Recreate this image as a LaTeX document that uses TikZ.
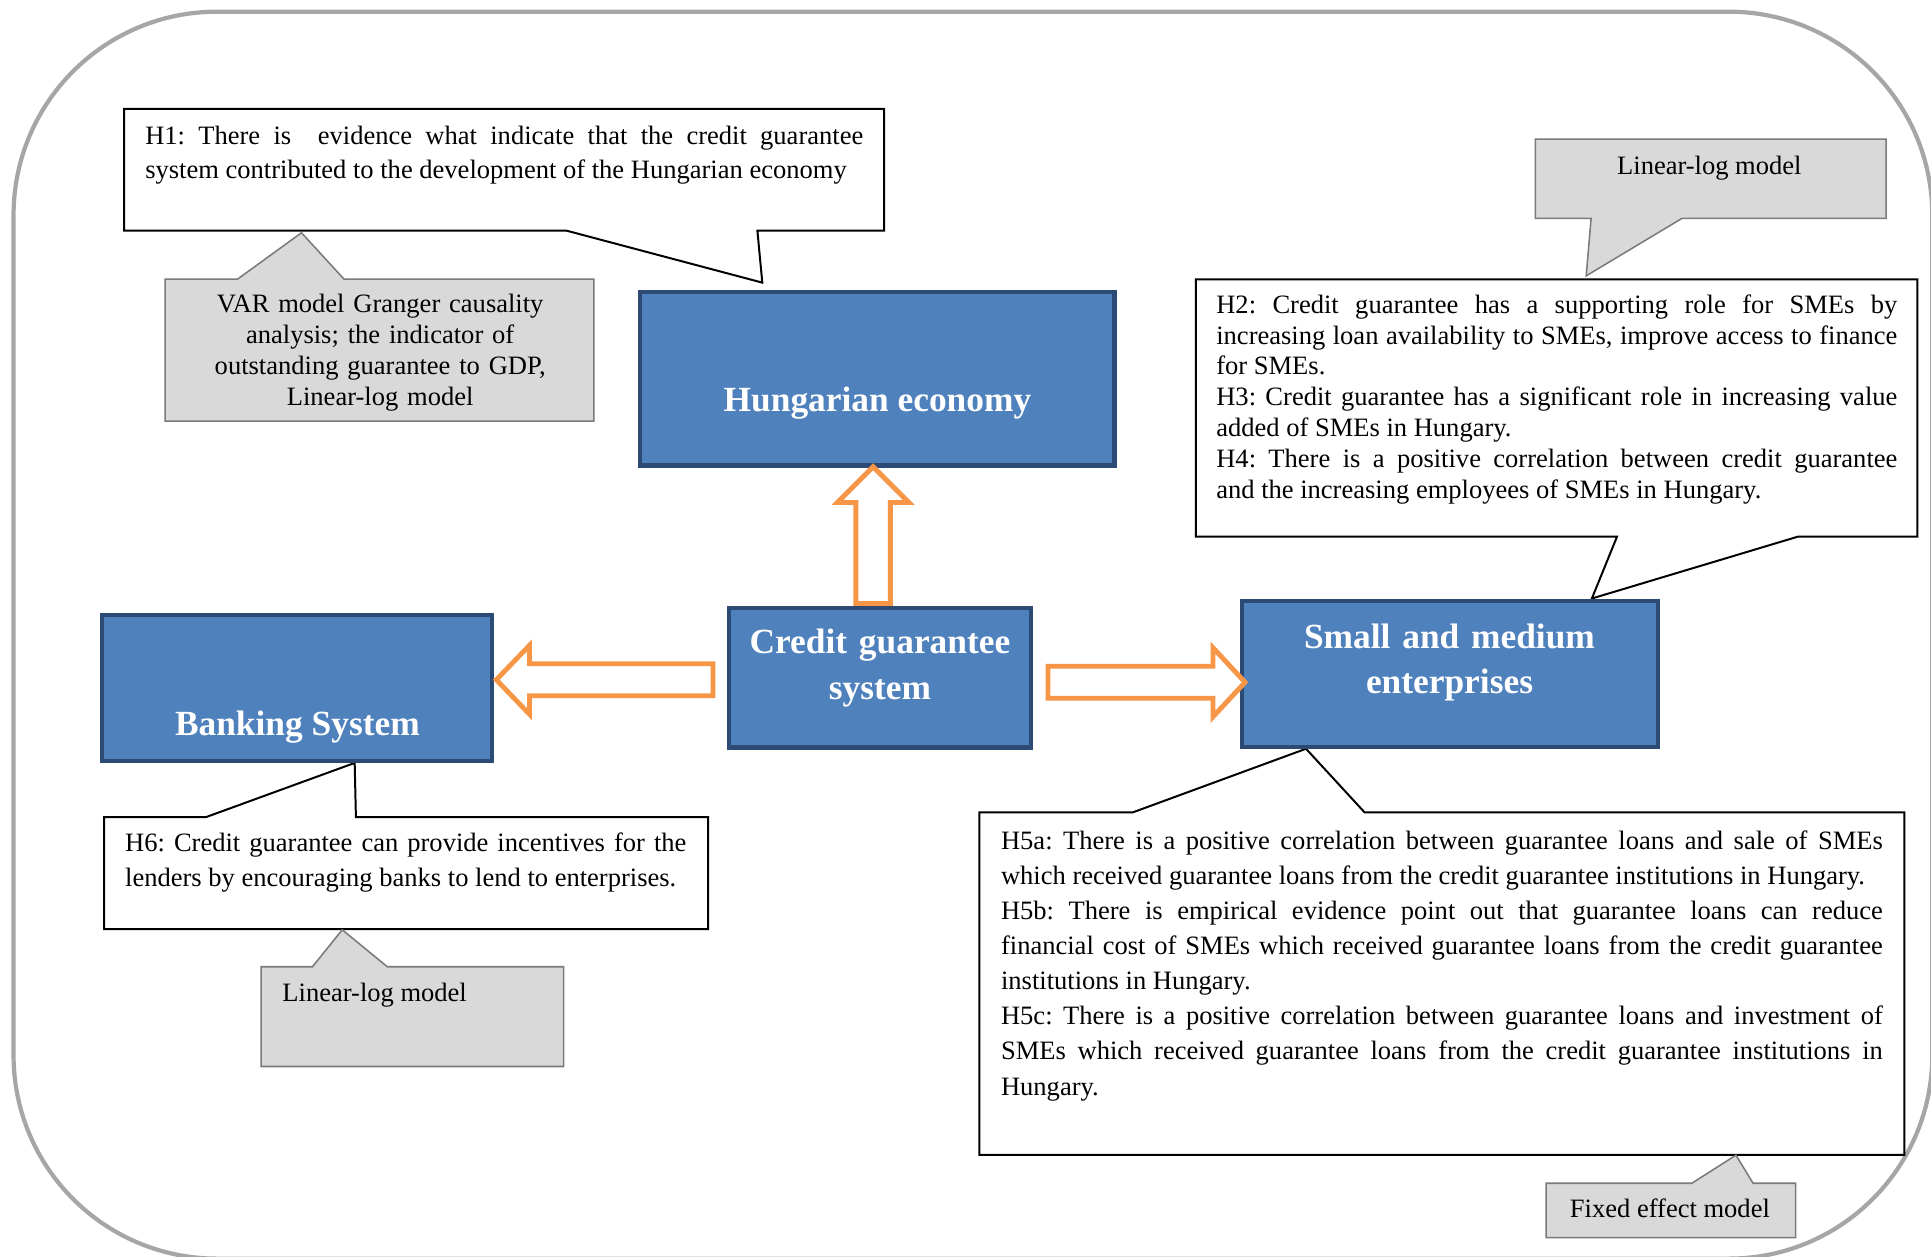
\documentclass[tikz,border=0pt]{standalone}
\usepackage{fontspec}
\setmainfont{Liberation Serif}
\usetikzlibrary{fit}
\definecolor{blfill}{HTML}{4F81BD}
\definecolor{bldraw}{HTML}{2C4A74}
\definecolor{orng}{HTML}{F79646}
\definecolor{grfill}{HTML}{D9D9D9}
\definecolor{grdraw}{HTML}{7A7A7A}
\definecolor{framecol}{HTML}{A6A6A6}
\frenchspacing
\begin{document}
\begin{tikzpicture}[x=0.557pt,y=-0.557pt,
  framebox/.style={draw=framecol,line width=1.9pt,rounded corners=92pt},
  callw/.style={draw=black,fill=white,line width=0.9pt},
  callg/.style={draw=grdraw,fill=grfill,line width=0.7pt},
  bluebox/.style={draw=bldraw,fill=blfill,line width=1.9pt,inner sep=0pt,outer sep=0pt},
  blockarrow/.style={draw=orng,fill=white,line width=2.2pt,line join=miter},
  bluetext/.style={text=white,font=\fontsize{16}{20.5}\selectfont\bfseries,inner sep=0pt,anchor=base,align=center},
  hyptext/.style={inner sep=0pt,anchor=base west,align=justify},
  graytext/.style={inner sep=0pt,font=\fontsize{12}{14}\selectfont}
]
\useasboundingbox (0,0) rectangle (1568,1020);
\fill[white] (0,0) rectangle (1568,1020);
% outer frame
\draw[framebox] (11,9.5) rectangle (1569,1022);

% callout shapes
\draw[callw] (100.7,88.5) -- (718,88.5) -- (718,187.3) -- (615,187.3) -- (619,229.5) -- (460,187.3) -- (100.7,187.3) -- cycle;
\draw[callg] (134,226.6) -- (193,226.6) -- (244.8,189) -- (279.3,226.6) -- (482.3,226.6) -- (482.3,341.9) -- (134,341.9) -- cycle;
\draw[callg] (1246.8,112.9) -- (1531.5,112.9) -- (1531.5,177.3) -- (1365.8,177.3) -- (1288,224) -- (1292,177.3) -- (1246.8,177.3) -- cycle;
\draw[callw] (971,226.8) -- (1557,226.8) -- (1557,435.8) -- (1459.8,435.8) -- (1292.6,486) -- (1313,435.8) -- (971,435.8) -- cycle;
\draw[callw] (84.6,663.6) -- (167,663.6) -- (288,619.5) -- (289,663.6) -- (575,663.6) -- (575,754.5) -- (84.6,754.5) -- cycle;
\draw[callg] (212,785) -- (253.7,785) -- (277.9,755) -- (314.5,785) -- (457.6,785) -- (457.6,866) -- (212,866) -- cycle;
\draw[callw] (795.2,659.6) -- (920,659.6) -- (1060.5,608) -- (1108,659.6) -- (1546.4,659.6) -- (1546.4,937.8) -- (795.2,937.8) -- cycle;
\draw[callg] (1255.4,960.8) -- (1373.8,960.8) -- (1409.6,938) -- (1423.5,960.8) -- (1458,960.8) -- (1458,1005) -- (1255.4,1005) -- cycle;

% blue boxes
\node[bluebox,fit={(520,237) (905,378)}] (hun) {};
\node[bluebox,fit={(591.7,494) (837.3,607)}] (cgs) {};
\node[bluebox,fit={(83,499.4) (399.5,617.7)}] (bank) {};
\node[bluebox,fit={(1008.3,487.8) (1346.4,606.3)}] (sme) {};

% block arrows
\draw[blockarrow] (695,490) -- (695,408) -- (680,408) -- (709,379) -- (738,408) -- (723,408) -- (723,490) -- cycle;
\draw[blockarrow] (579,539) -- (430,539) -- (430,524) -- (403,552) -- (430,580) -- (430,565) -- (579,565) -- cycle;
\draw[blockarrow] (851,541) -- (985,541) -- (985,526) -- (1011,554) -- (985,582) -- (985,567) -- (851,567) -- cycle;

% blue box texts
\node[bluetext] (hunT) at (712.5,334) {Hungarian economy};
\node[bluetext,text width=230*0.557pt] (cgsT) at (714.5,531) {Credit guarantee\\system};
\node[bluetext] (bankT) at (241.5,597) {Banking System};
\node[bluetext,text width=320*0.557pt,font=\fontsize{16}{20.6}\selectfont\bfseries] (smeT) at (1177,526.5) {Small and medium\\enterprises};

% hypothesis texts
\node[hyptext,text width=583*0.557pt,font=\fontsize{12}{15.4}\selectfont] (h1) at (117.6,117)
 {H1: There is\ \ evidence what indicate that the credit guarantee\linebreak system contributed to the development of the Hungarian economy};
\node[hyptext,text width=553*0.557pt,font=\fontsize{12}{13.95}\selectfont] (h2) at (987.3,254.4)
 {H2: Credit guarantee has a supporting role for SMEs by\linebreak increasing loan availability to SMEs, improve access to finance\linebreak for SMEs.\par
  H3: Credit guarantee has a significant role in increasing value\linebreak added of SMEs in Hungary.\par
  H4: There is a positive correlation between credit guarantee\linebreak and the increasing employees of SMEs in Hungary.};
\node[hyptext,text width=455.7*0.557pt,font=\fontsize{12}{15.9}\selectfont] (h6) at (101.3,691.6)
 {H6: Credit guarantee can provide incentives for the\linebreak lenders by encouraging banks to lend to enterprises.};
\node[hyptext,text width=716*0.557pt,font=\fontsize{12}{15.9}\selectfont] (h5) at (812.5,689.4)
 {H5a: There is a positive correlation between guarantee loans and sale of SMEs\linebreak which received guarantee loans from the credit guarantee institutions in Hungary.\par
  H5b: There is empirical evidence point out that guarantee loans can reduce\linebreak financial cost of SMEs which received guarantee loans from the credit guarantee\linebreak institutions in Hungary.\par
  H5c: There is a positive correlation between guarantee loans and investment of\linebreak SMEs which received guarantee loans from the credit guarantee institutions in\linebreak Hungary.};

% method texts
\node[graytext,anchor=base,align=center,text width=340*0.557pt] (var) at (308.7,254)
 {VAR model Granger causality\\analysis; the indicator of\\outstanding guarantee to GDP,\\Linear-log model};
\node[graytext,anchor=base] (lltr) at (1388,141.5) {Linear-log model};
\node[graytext,anchor=base west] (llbl) at (229,813) {Linear-log model};
\node[graytext,anchor=base] (fem) at (1356,989) {Fixed effect model};
\end{tikzpicture}
\end{document}
